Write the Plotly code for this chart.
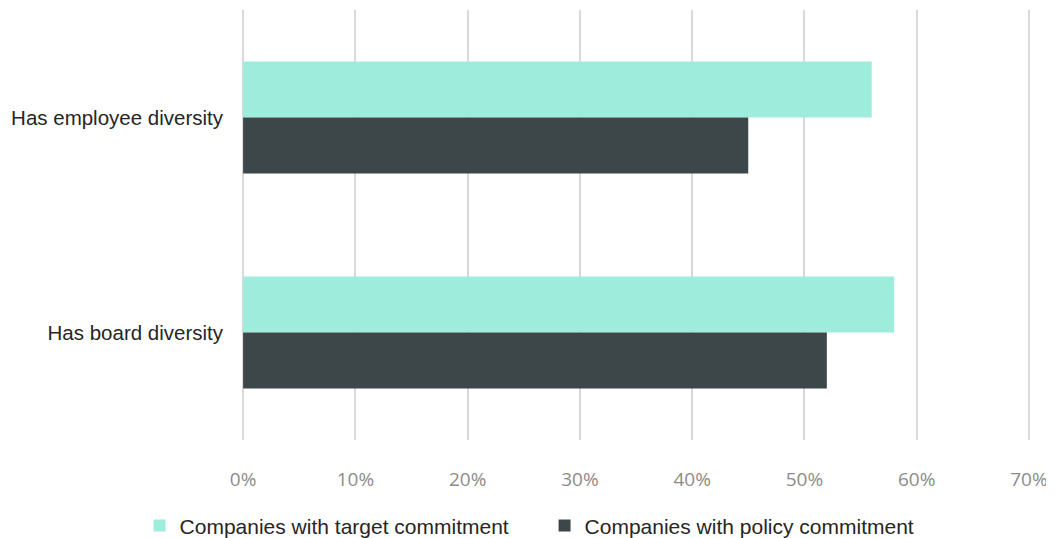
import plotly.graph_objects as go

categories = ["Has employee diversity", "Has board diversity"]
series_names = ["Companies with target commitment", "Companies with policy commitment"]
target_values = [56, 58]
policy_values = [45, 52]
tick_values = [0, 10, 20, 30, 40, 50, 60, 70]
tick_labels = ["0%", "10%", "20%", "30%", "40%", "50%", "60%", "70%"]

colors = ["#9EEDDC", "#3D4648"]

fig = go.Figure()
fig.add_trace(go.Bar(y=categories, x=target_values, name=series_names[0], orientation="h",
                     marker=dict(color=colors[0], line=dict(width=0))))
fig.add_trace(go.Bar(y=categories, x=policy_values, name=series_names[1], orientation="h",
                     marker=dict(color=colors[1], line=dict(width=0))))

# page body has an 8px margin, so the figure is 1046x530 and margins compensate
fig.update_layout(
    width=1046, height=530,
    margin=dict(l=234, r=24, t=2, b=98, autoexpand=False),
    plot_bgcolor="white", paper_bgcolor="white",
    barmode="group", bargap=0.48, bargroupgap=0,
    font=dict(family="Liberation Sans, Arial", color="#262626", size=21),
    xaxis=dict(range=[-0.1, 70.1], tickvals=tick_values, ticktext=tick_labels,
               showgrid=True, gridcolor="#D9D9D9", gridwidth=2, zeroline=False,
               showline=False, ticks="", automargin=False,
               tickfont=dict(family="Open Sans", size=19, color="#8C8C8C"),
               ticklabelstandoff=26),
    yaxis=dict(categoryorder="array", categoryarray=categories, autorange="reversed",
               showgrid=False, zeroline=False, showline=False, ticks="", automargin=False,
               tickfont=dict(size=20.5, color="#262626"), ticklabelstandoff=18),
    legend=dict(orientation="h", x=-0.13, xanchor="left", y=-0.152, yanchor="top",
                font=dict(size=21, color="#262626"), itemwidth=30, traceorder="normal",
                entrywidthmode="pixels", entrywidth=360),
    showlegend=True,
)

fig.write_html("out.html")
